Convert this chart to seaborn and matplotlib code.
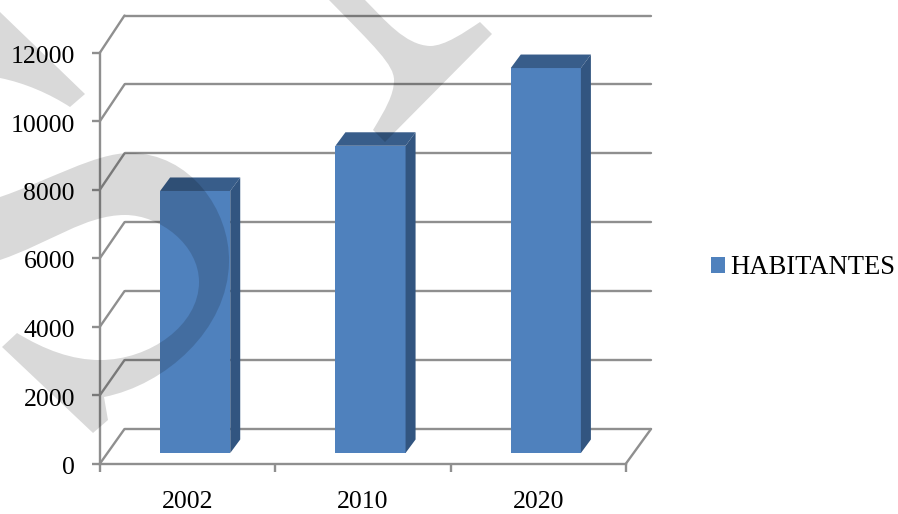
import pandas as pd
import seaborn as sns
import matplotlib.pyplot as plt
from matplotlib.lines import Line2D
from matplotlib.patches import PathPatch, Polygon
from matplotlib.path import Path
from matplotlib.transforms import Affine2D, IdentityTransform, ScaledTranslation

years = ["2002", "2010", "2020"]
habitantes = [7650, 8970, 11240]
y_ticks = [0, 2000, 4000, 6000, 8000, 10000, 12000]
serie = "HABITANTES"

BAR = "#4f81bd"
TOP = "#385d8a"
SIDE = "#325580"
GRID = "#8f8f8f"
W, H = 898, 514

sns.set_theme(style="white")
plt.rcParams["font.family"] = ["Liberation Serif", "DejaVu Serif"]

fig = plt.figure(figsize=(W / 100, H / 100), dpi=100)

# back wall of the fake 3d box, only the grid lines
back = fig.add_axes([124.5 / W, (H - 429) / H, 526.5 / W, 413.5 / H])
back.set_xlim(-0.5, 2.5)
back.set_ylim(0, 12000)
back.set_xticks([])
back.set_yticks(y_ticks)
back.tick_params(left=False, labelleft=False)
back.grid(axis="y", color=GRID, lw=1.7)
for line in back.get_ygridlines():
    line.set_clip_on(False)
sns.despine(ax=back, left=True, bottom=True)
back.patch.set_visible(False)

# front plane with the axes, ticks and bars
ax = fig.add_axes([100 / W, (H - 463.5) / H, 526 / W, 411 / H])
ax.patch.set_visible(False)
df = pd.DataFrame({"year": years, "habitantes": habitantes})
sns.barplot(data=df, x="year", y="habitantes", color=BAR, saturation=1, width=0.4,
            edgecolor="none", linewidth=0, label=serie, legend=False, ax=ax)
ax.set_xlim(-0.5, 2.5)
ax.set_ylim(0, 12000)
ax.set_yticks(y_ticks)
ax.set_xticks([-0.5, 0.5, 1.5, 2.5], minor=False, labels=["", "", "", ""])
ax.set_xticks([0, 1, 2], labels=years, minor=True)
ax.set_xlabel("")
ax.set_ylabel("")
ax.tick_params(axis="y", length=6, width=1.7, color=GRID, left=True, pad=12, labelsize=18.5, labelcolor="black")
ax.tick_params(axis="x", which="major", length=6, width=1.7, color=GRID, bottom=True)
ax.tick_params(axis="x", which="minor", length=0, pad=19.5, labelsize=18.5, labelcolor="black")
sns.despine(ax=ax)
for side in ["left", "bottom"]:
    ax.spines[side].set_color(GRID)
    ax.spines[side].set_linewidth(1.7)

# y labels sit a little below their ticks in the reference
for label in ax.get_yticklabels():
    label.set_transform(label.get_transform() + Affine2D().translate(0, -2))

# bars sit inside the box, so shift them and add top and side faces
fig.canvas.draw()
shift = ScaledTranslation(7.5 / 100, 10.5 / 100, fig.dpi_scale_trans)
dx, dy = 10, 13.5
for bar in ax.patches:
    bar.set_transform(ax.transData + shift)
    tr = ax.transData + shift
    x0, y0 = tr.transform((bar.get_x(), 0))
    x1, y1 = tr.transform((bar.get_x() + bar.get_width(), bar.get_height()))
    top = [(x0, y1), (x1, y1), (x1 + dx, y1 + dy), (x0 + dx, y1 + dy)]
    right = [(x1, y0), (x1 + dx, y0 + dy), (x1 + dx, y1 + dy), (x1, y1)]
    ax.add_artist(Polygon(top, closed=True, fc=TOP, ec="none", transform=IdentityTransform()))
    ax.add_artist(Polygon(right, closed=True, fc=SIDE, ec="none", transform=IdentityTransform()))

# slanted lines joining the front plane to the back wall
for v in y_ticks:
    p0 = ax.transData.transform((-0.5, v))
    p1 = back.transData.transform((-0.5, v))
    fig.add_artist(Line2D([p0[0], p1[0]], [p0[1], p1[1]], color=GRID, lw=1.7,
                          transform=IdentityTransform()))
p0 = ax.transData.transform((2.5, 0))
p1 = back.transData.transform((2.5, 0))
fig.add_artist(Line2D([p0[0], p1[0]], [p0[1], p1[1]], color=GRID, lw=1.7,
                      transform=IdentityTransform()))

handles = [plt.Rectangle((0, 0), 1, 1, fc=BAR, ec="none")]
fig.legend(handles, [serie], loc="center left", bbox_to_anchor=(711 / W, (H - 268) / H),
           frameon=False, fontsize=19.2, handlelength=0.52, handleheight=0.52,
           handletextpad=0.2, borderpad=0, borderaxespad=0, labelcolor="black")

# watermark, in picture pixels from the top left
M, L, C = Path.MOVETO, Path.LINETO, Path.CURVE4
wm_parts = [
    [(M, (0, 12)), (L, (85, 94)), (L, (70, 107)),
     (C, (50, 94)), (C, (25, 83)), (C, (0, 78)), (L, (0, 12))],
    [(M, (0, 197)), (C, (50, 180)), (C, (95, 153)), (C, (130, 153)),
     (C, (190, 153)), (C, (230, 210)), (C, (229, 262)),
     (C, (228, 330)), (C, (165, 385)), (C, (104, 397)),
     (L, (108, 420)), (L, (93, 433)), (L, (2, 347)), (L, (17, 333)),
     (C, (45, 350)), (C, (72, 360)), (C, (100, 360)),
     (C, (150, 360)), (C, (199, 325)), (C, (199, 282)),
     (C, (199, 245)), (C, (160, 215)), (C, (125, 215)),
     (C, (85, 215)), (C, (50, 243)), (C, (0, 260)), (L, (0, 197))],
    [(M, (329, 0)), (L, (365, 0)), (C, (385, 20)), (C, (405, 45)), (C, (430, 46)),
     (C, (445, 46)), (C, (465, 32)), (C, (480, 22)), (L, (492, 34)),
     (L, (385, 142)), (L, (373, 130)), (C, (385, 110)), (C, (394, 95)), (C, (394, 80)),
     (C, (394, 65)), (C, (375, 47)), (C, (329, 0))],
]
to_fig = Affine2D().scale(1, -1).translate(0, H)
for part in wm_parts:
    path = Path([p for _, p in part], [c for c, _ in part])
    fig.add_artist(PathPatch(path, fc="black", ec="none", alpha=0.15, zorder=6, transform=to_fig))

fig.savefig("out.png", dpi=100)
